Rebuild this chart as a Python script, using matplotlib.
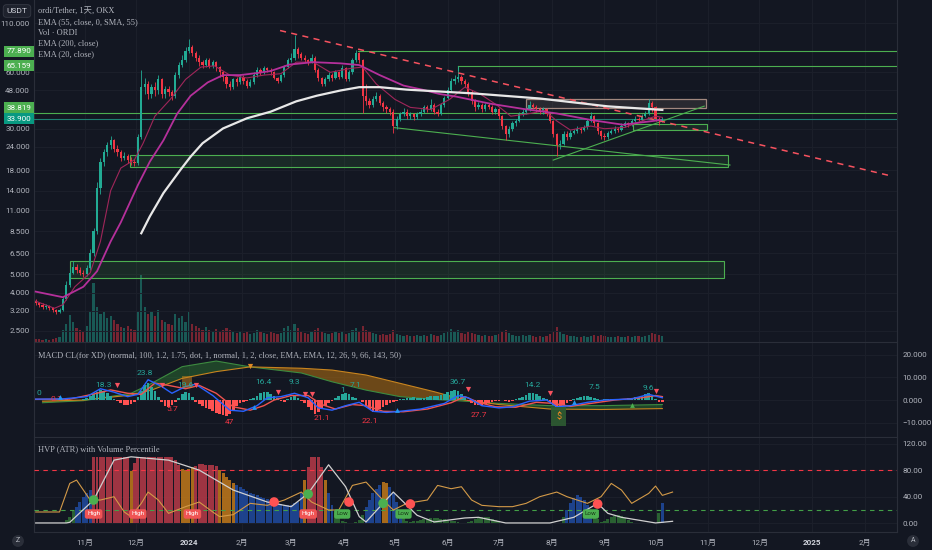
import numpy as np
import pandas as pd
import matplotlib
matplotlib.use('Agg')
import matplotlib.pyplot as plt
from matplotlib.patches import Rectangle
from matplotlib.ticker import NullLocator, NullFormatter

SANS = ['Roboto', 'Noto Sans CJK SC', 'DejaVu Sans']
SERIF = ['Liberation Serif', 'Noto Sans CJK SC', 'DejaVu Sans']
plt.rcParams['font.family'] = SANS

BG = '#131722'
GRID = '#1c202b'
SEP = '#2a2e39'
TXT = '#b2b5be'
UP = '#22ab94'
DN = '#f23645'
GREEN = '#4caf50'

START = pd.Timestamp('2023-10-02')

# 2-day candles (ORDI/USDT)
closes = [3.50, 3.42, 3.35, 3.38, 3.30, 3.22, 3.15, 3.25, 3.70, 4.40,
          5.10, 5.50, 5.30, 5.10, 5.00, 5.40, 6.50, 8.50, 14.5, 20.0,
          22.5, 24.5, 26.0, 23.5, 22.5, 21.0, 21.5, 20.5, 20.0, 19.6,
          27.0, 50.0, 52.0, 46.0, 50.0, 48.0, 55.0, 46.0, 49.0, 47.0,
          45.0, 58.0, 66.0, 70.0, 78.0, 82.0, 76.0, 72.0, 68.0, 66.0,
          70.0, 65.0, 68.0, 64.0, 60.0, 57.0, 52.0, 50.0, 55.0, 53.0,
          57.0, 54.0, 51.0, 53.0, 58.0, 62.0, 60.0, 63.0, 62.0, 60.0,
          56.0, 54.0, 58.0, 64.0, 70.0, 72.0, 80.0, 75.0, 72.0, 70.0,
          68.0, 72.0, 62.0, 56.0, 52.0, 55.0, 58.0, 56.0, 60.0, 57.0,
          63.0, 55.0, 60.0, 70.0, 76.0, 70.0, 45.0, 42.0, 40.0, 43.0,
          45.0, 41.0, 39.0, 38.0, 37.0, 31.0, 34.0, 36.0, 37.0, 35.0,
          36.0, 34.5, 36.0, 37.0, 39.0, 38.0, 40.0, 37.0, 36.0, 40.0,
          44.0, 48.0, 54.0, 55.0, 57.0, 54.0, 52.0, 47.0, 42.0, 39.0,
          40.0, 38.0, 40.0, 39.0, 37.0, 38.0, 35.0, 31.0, 28.0, 30.0,
          32.0, 33.0, 36.0, 37.0, 38.0, 40.0, 39.0, 38.0, 37.0, 38.0,
          36.0, 33.0, 28.0, 24.5, 25.0, 28.0, 27.0, 28.5, 29.0, 30.0,
          29.5, 30.5, 33.0, 35.0, 32.0, 29.0, 27.5, 27.0, 28.5, 29.0,
          30.0, 29.5, 31.0, 32.0, 31.5, 33.0, 34.0, 33.5, 35.0, 36.0,
          41.0, 39.0, 34.0, 33.0, 33.9]
highs = [3.70, 3.58, 3.50, 3.48, 3.44, 3.36, 3.28, 3.32, 3.80, 4.60,
         5.40, 5.90, 5.70, 5.45, 5.30, 5.60, 6.80, 8.90, 15.5, 21.0,
         23.5, 25.5, 27.5, 26.5, 24.5, 23.0, 22.5, 22.0, 21.2, 20.8,
         28.0, 62.0, 56.0, 54.0, 52.0, 53.0, 58.0, 56.0, 51.0, 50.5,
         48.0, 60.0, 68.0, 74.0, 82.0, 90.0, 84.0, 78.0, 74.0, 70.0,
         72.0, 72.0, 70.0, 69.0, 65.0, 61.0, 58.0, 54.0, 56.0, 57.0,
         59.0, 58.0, 55.0, 55.0, 60.0, 64.0, 63.0, 65.0, 64.0, 63.0,
         61.0, 57.0, 59.0, 66.0, 72.0, 76.0, 95.0, 82.0, 77.0, 74.0,
         71.0, 75.0, 73.0, 63.0, 57.0, 56.5, 60.0, 59.5, 62.0, 61.0,
         66.0, 64.0, 61.5, 72.0, 79.0, 77.0, 71.0, 52.0, 44.0, 45.0,
         47.0, 46.0, 42.0, 40.0, 39.0, 38.0, 35.0, 37.0, 38.5, 38.0,
         37.0, 36.5, 37.0, 38.0, 40.0, 40.0, 43.0, 41.0, 38.0, 41.0,
         45.0, 50.0, 56.0, 58.0, 65.0, 58.0, 55.0, 53.0, 48.0, 43.0,
         41.5, 41.0, 41.0, 41.0, 40.0, 39.0, 38.5, 35.5, 31.5, 31.0,
         33.0, 34.0, 37.0, 38.0, 39.0, 42.0, 41.0, 40.0, 39.0, 39.0,
         38.5, 36.5, 33.5, 28.5, 26.0, 29.0, 29.0, 29.5, 30.0, 31.0,
         30.5, 31.5, 34.0, 37.0, 35.5, 32.5, 29.5, 28.5, 29.0, 30.0,
         31.0, 30.5, 32.0, 33.0, 32.5, 34.0, 35.0, 34.5, 36.0, 37.5,
         43.0, 42.0, 39.5, 34.5, 34.8]
lows = [3.42, 3.35, 3.28, 3.27, 3.22, 3.15, 3.08, 3.10, 3.20, 3.65,
        4.30, 5.00, 5.10, 4.95, 4.85, 4.90, 5.30, 6.30, 8.20, 13.5,
        19.0, 21.5, 23.5, 22.5, 21.5, 20.2, 20.3, 19.8, 19.3, 19.0,
        19.3, 26.5, 46.0, 43.0, 44.0, 45.0, 46.0, 44.0, 44.0, 45.0,
        42.5, 44.0, 56.0, 64.0, 68.0, 76.0, 73.0, 69.0, 65.0, 63.0,
        64.0, 63.0, 63.0, 61.0, 57.0, 54.0, 49.5, 48.5, 49.0, 51.0,
        52.0, 52.0, 49.5, 50.0, 52.0, 57.0, 58.0, 59.0, 60.0, 58.0,
        55.0, 52.5, 53.0, 57.0, 63.0, 68.0, 70.0, 72.0, 70.0, 68.0,
        66.0, 67.0, 60.0, 54.0, 50.5, 51.0, 54.0, 54.0, 55.0, 55.5,
        56.0, 54.0, 54.0, 59.0, 68.0, 67.0, 36.5, 40.0, 38.5, 39.0,
        42.0, 40.0, 37.5, 36.5, 35.5, 28.5, 30.0, 33.0, 35.0, 34.0,
        34.0, 33.5, 34.0, 35.0, 36.5, 37.0, 37.5, 36.0, 35.0, 35.5,
        39.0, 43.0, 47.0, 52.0, 53.0, 52.0, 50.0, 45.0, 40.5, 37.5,
        38.0, 37.0, 37.5, 38.0, 36.0, 36.0, 34.0, 30.0, 26.0, 27.0,
        29.0, 31.0, 32.5, 35.0, 36.0, 37.5, 38.0, 37.0, 36.0, 36.0,
        35.0, 32.0, 27.0, 21.5, 23.5, 24.5, 26.0, 26.5, 28.0, 28.5,
        28.5, 29.0, 30.0, 32.5, 31.0, 28.0, 26.5, 26.0, 26.5, 28.0,
        28.5, 28.8, 29.0, 30.5, 30.8, 31.0, 32.5, 32.8, 33.0, 34.5,
        35.5, 37.0, 33.0, 31.5, 32.5]
volume = [3, 3, 2, 3, 2, 3, 4, 5, 12, 18,
          27, 20, 14, 12, 10, 16, 30, 59, 35, 28,
          30, 24, 26, 22, 18, 15, 14, 16, 13, 12,
          30, 67, 35, 28, 30, 26, 32, 22, 20, 18,
          17, 28, 24, 26, 20, 30, 18, 16, 14, 12,
          15, 12, 11, 13, 10, 12, 14, 12, 10, 9,
          11, 9, 10, 8, 9, 12, 10, 9, 8, 10,
          9, 8, 9, 14, 16, 12, 18, 14, 10, 9,
          8, 10, 12, 14, 11, 9, 8, 9, 10, 9,
          11, 8, 9, 12, 14, 11, 16, 12, 10, 9,
          8, 7, 8, 7, 8, 12, 8, 7, 6, 7,
          6, 6, 7, 6, 7, 6, 8, 7, 6, 7,
          9, 11, 13, 10, 12, 9, 8, 10, 9, 8,
          7, 6, 7, 6, 6, 7, 8, 10, 12, 9,
          7, 6, 6, 7, 6, 7, 6, 5, 6, 5,
          6, 8, 11, 15, 10, 8, 7, 6, 6, 5,
          5, 6, 5, 6, 7, 6, 7, 6, 5, 5,
          5, 6, 5, 5, 6, 5, 6, 6, 5, 6,
          7, 9, 8, 7, 6]

# moving averages (day since START, price)
ema200_day = [63, 68, 76, 86, 92, 99, 111, 125, 139, 154, 166, 180, 191, 203, 219, 258, 297, 337, 369]
ema200_val = [8.3, 10.2, 13.6, 18.1, 21.3, 25.1, 30.1, 34.1, 37.0, 42.0, 45.0, 48.0, 50.0, 50.0, 48.5, 46.3, 43.5, 39.5, 37.8]
ema55_day = [1, 17, 29, 37, 45, 51, 61, 68, 76, 84, 92, 102, 111, 121, 131, 139, 150, 164, 180, 191,
             203, 217, 228, 238, 248, 268, 287, 307, 327, 346, 368]
ema55_val = [4.05, 3.78, 4.3, 5.2, 7.5, 9.5, 15.0, 20.0, 26.0, 36.0, 45.0, 53.0, 58.0, 58.0, 59.5, 61.0, 66.0, 68.0, 67.0, 65.6,
             58.0, 51.0, 48.5, 46.0, 44.5, 40.8, 38.3, 36.2, 33.4, 31.5, 33.4]
ema20_day = [1, 12, 17, 24, 33, 39, 45, 51, 59, 64, 71, 80, 89, 98, 106, 115, 125, 135, 145, 154,
             164, 174, 186, 193, 201, 212, 221, 233, 244, 253, 262, 272, 280, 290, 300, 307, 315, 327, 335, 347,
             359, 365, 369]
ema20_val = [3.6, 3.3, 3.45, 4.3, 5.1, 7.5, 14.0, 18.5, 20.5, 25.0, 35.0, 43.0, 55.0, 64.0, 65.0, 58.0, 56.0, 58.0, 59.0, 68.0,
             68.0, 60.0, 63.0, 64.0, 52.0, 43.0, 39.0, 38.0, 43.0, 50.0, 46.0, 40.0, 35.0, 36.0, 37.5, 33.0, 29.5, 31.0, 30.0, 30.5,
             33.5, 35.0, 34.5]

price_ticks = [110, 60, 48, 30, 24, 18, 14, 11, 8.5, 6.5, 5, 4, 3.2, 2.5]
price_tags = [(77.89, '77.890', GREEN), (65.159, '65.159', GREEN),
              (38.819, '38.819', GREEN), (33.9, '33.900', '#089981')]

# MACD panel (per candle histogram, sampled lines by candle index)
macd_hist = [0.2, 0.1, -0.1, -0.2, -0.1, 0.0, 0.1, 0.1, 0.2, 0.3, 0.2, 0.1, 0.1, 0.2, 0.4,
             0.8, 1.6, 2.6, 3.6, 4.4, 4.0, 3.0, 1.8, 0.6,
             -0.5, -1.2, -2.0, -2.2, -1.6, -0.8,
             1.5, 4.0, 6.5, 7.5, 6.0, 4.0, 1.5,
             -1.0, -2.5, -3.0, -2.2, -1.0,
             1.0, 2.5, 3.7, 3.0, 1.2,
             -0.8, -1.8, -2.6, -3.4, -4.2, -5.0, -5.8, -6.4, -6.8, -7.0, -6.2, -4.5, -2.8, -1.2,
             -0.8, -0.3, 0.5, 1.0,
             2.0, 3.0, 3.7, 3.5, 2.8, 1.8, 0.8,
             -0.5, -1.0, 0.5, 1.5, 2.0, 1.0,
             -0.5, -1.5, -3.0, -4.5, -6.0, -5.5, -4.0, -2.5, -1.2, -0.3,
             0.8, 1.8, 2.8, 3.0, 2.5, 1.5, 0.8, 0.2,
             -1.0, -2.5, -4.0, -5.2, -5.0, -4.0, -3.0, -2.0, -1.2, -0.8, -0.3,
             0.3, 0.5, 0.8, 1.0, 1.2, 1.0, 0.8, 1.0, 1.3, 1.6, 1.8, 2.0, 2.3, 2.8, 3.5, 4.2, 4.4, 3.8, 2.8, 1.5,
             -0.5, -1.2, -2.0, -2.2, -2.0, -1.6, -1.2, -0.8, -0.6, -0.4, -0.2,
             -0.5, -1.0, -0.5, 0.3, 0.8,
             1.5, 2.2, 3.0, 3.0, 2.5, 1.8, 1.0, 0.3,
             -0.8, -2.0, -3.0, -2.8, -2.0, -1.2, -0.4,
             0.5, 1.0, 1.5, 1.8, 1.6, 1.2, 0.8, 0.4, 0.2,
             0.3, 0.5, 0.6, 0.5, 0.4, 0.5, 0.6, 0.8, 1.0, 1.2, 1.5, 2.0,
             2.5, 3.0, 2.0, 0.5, -0.8, -1.0]
macd_idx = [0, 8, 15, 19, 23, 27, 30, 33, 37, 40, 44, 47, 52, 57, 61, 65, 68, 72, 76, 80, 83, 87, 91, 95,
            99, 103, 107, 113, 120, 124, 127, 131, 136, 140, 145, 150, 153, 157, 162, 167, 175, 180, 184]
macd_val = [0.4, 0.5, 1.5, 5.0, 3.5, 1.5, 2.5, 9.0, 6.0, 3.0, 6.0, 7.0, 2.0, -4.5, -5.0, -2.5, 1.0, 1.5, 3.0, 1.0,
            -3.5, -4.5, -2.5, -1.0, -5.0, -5.5, -5.0, -4.0, -1.5, 2.0, 1.0, -2.5, -3.5, -3.0, -0.5, 0.0, -3.0,
            -2.5, -1.0, 0.0, 0.5, 2.5, 1.0]
signal_idx = [0, 10, 18, 22, 27, 31, 35, 39, 44, 48, 53, 58, 63, 67, 70, 75, 80, 84, 88, 93, 97, 102, 108,
              115, 122, 126, 130, 135, 141, 147, 152, 157, 163, 170, 178, 182, 184]
signal_val = [0.3, 0.4, 3.0, 4.5, 3.0, 2.5, 7.5, 6.5, 5.0, 6.5, 3.0, -3.0, -4.5, -2.5, 0.0, 2.0, 2.0, -2.0, -4.0,
              -2.0, -2.5, -5.0, -5.2, -4.0, -1.2, 1.5, -1.0, -3.0, -3.2, -1.0, -1.5, -2.8, -1.5, 0.0, 1.0, 2.0, 1.5]
cloud_idx = [2, 14, 28, 34, 43, 53, 63, 78, 87, 97, 107, 117, 126, 136, 151, 166, 184]
cloud_fast = [-1.2, -0.3, 3.0, 7.4, 14.8, 17.3, 14.7, 12.0, 8.1, 4.4, 1.5, 0.3, -0.5, -1.5, -2.5, -2.5, -2.0]
cloud_slow = [-0.5, 0.0, 2.2, 4.4, 9.6, 12.6, 14.7, 14.1, 13.3, 11.1, 7.4, 3.7, 0.0, -2.0, -4.0, -4.2, -3.8]
macd_up_labels = [(1, 1.8, '0'), (20, 5.3, '18.3'), (32, 10.7, '23.8'), (44, 5.3, '19.6'), (67, 6.7, '16.4'),
                  (76, 6.7, '9.3'), (90, 3.1, '1'), (94, 5.3, '7.1'), (124, 6.7, '36.7'), (146, 5.3, '14.2'),
                  (164, 4.4, '7.5'), (180, 4.0, '9.6')]
macd_dn_labels = [(6, 1.8, '0.1'), (40, -2.7, '5.7'), (57, -8.4, '47'), (84, -6.7, '21.1'),
                  (98, -8.0, '22.1'), (130, -5.3, '27.7')]
sell_marks = [(24, 6.7), (37, 6.7), (47, 6.7), (71, 3.6), (79, 2.7), (81, 2.7), (127, 4.9), (151, 3.1), (182, 4.0)]
buy_marks = [(7, 1.3), (64, -3.1), (106, -4.4), (158, -0.9)]

# HVP panel
hvp = [0.5, 0.5, 0.5, 0.5, 0.5, 0.5, 0.5, 0.5, 0.5, 5,
       10, 18, 25, 32, 40, 46, 50, 100, 100, 100,
       100, 100, 100, 100, 100, 100, 100, 100, 78, 90,
       100, 100, 100, 100, 100, 100, 100, 100, 100, 100,
       100, 95, 88, 82, 80, 82, 84, 86, 89, 89,
       88, 88, 87, 86, 80, 75, 70, 65, 60, 57,
       54, 51, 48, 46, 44, 42, 40, 38, 36, 34,
       32, 30, 29, 28, 27, 28, 30, 32, 45, 65,
       85, 100, 100, 100, 85, 65, 45, 28, 15, 8,
       4, 2, 1, 1, 2, 5, 12, 25, 35, 45,
       52, 58, 62, 60, 55, 45, 32, 20, 10, 3,
       2, 3, 4, 5, 6, 7, 8, 8, 8, 7,
       6, 5, 4, 3, 2, 1, 1, 2, 4, 6,
       8, 10, 10, 9, 7, 5, 3, 1, 0.5, 0.5,
       0.5, 0.5, 0.5, 0.5, 0.5, 0.5, 0.5, 0.5, 0.5, 0.5,
       0.5, 0.5, 0.5, 0.5, 0.5, 10, 20, 30, 38, 42,
       40, 35, 28, 20, 12, 6, 2, 3, 6, 9,
       11, 12, 11, 8, 5, 2, 0.5, 0.5, 0.5, 0.5,
       0.5, 0.5, 1, 15, 30]
hvp_line_idx = [0, 9, 10, 17, 23, 28, 39, 48, 58, 68, 75, 80, 86, 91, 95, 97, 105, 112, 117, 126,
                130, 138, 151, 158, 165, 168, 172, 182, 187]
hvp_line_val = [0.5, 0.5, 1.5, 35, 95, 100, 95, 80, 50, 32, 25, 45, 88, 55, 10, 2, 47, 12, 2, 8,
                9, 0.5, 0.5, 9, 30, 15, 9, 0.5, 3]
volpct_idx = [0, 7, 10, 12, 14, 16, 19, 23, 26, 28, 31, 33, 36, 39, 44, 48, 52, 54, 58, 63,
              68, 73, 78, 81, 86, 89, 93, 97, 101, 105, 109, 115, 118, 122, 125, 128, 131, 136, 140, 144,
              148, 153, 156, 159, 162, 166, 169, 172, 175, 180, 182, 184, 187]
volpct_val = [17, 17, 60, 65, 50, 35, 35, 40, 17, 10, 30, 47, 35, 15, 25, 32, 17, 10, 13, 30,
              27, 35, 47, 32, 20, 20, 57, 62, 40, 20, 30, 35, 57, 52, 55, 35, 27, 25, 25, 30,
              40, 47, 40, 35, 30, 40, 60, 50, 30, 45, 56, 42, 47]
hvp_dots = [(17, 35, '#4caf50'), (80, 44, '#4caf50'), (70, 32, '#ff5252'), (92, 32, '#ff5252'),
            (102, 30, '#4caf50'), (110, 29, '#ff5252'), (165, 29, '#ff5252')]
high_tags = [17, 30, 46, 80]
low_tags = [90, 108, 163]


def cday(i):
    return 1 + 2 * np.asarray(i, dtype=float)


n = len(closes)
closes = np.array(closes)
highs = np.array(highs)
lows = np.array(lows)
opens = np.r_[3.60, closes[:-1]]
day = cday(np.arange(n))
cols = np.where(closes >= opens, UP, DN)

months = pd.date_range('2023-11-01', '2025-02-01', freq='MS')
mticks = (months - START).days
mlabels = [str(d.year) if d.month == 1 else f'{d.month}月' for d in months]
XMAX = 506.8

fig = plt.figure(figsize=(9.32, 5.5), dpi=100, facecolor=BG)
L, W = 34 / 932, 863 / 932
ax = fig.add_axes([L, 208 / 550, W, 342 / 550])
axm = fig.add_axes([L, 113 / 550, W, 94 / 550])
axh = fig.add_axes([L, 18 / 550, W, 94 / 550])

for a in (ax, axm, axh):
    a.set_facecolor(BG)
    a.set_xlim(0, XMAX)
    a.set_xticks(mticks)
    a.grid(True, color=GRID, lw=0.7)
    a.set_axisbelow(True)
    a.tick_params(length=0, colors=TXT, labelsize=5.8)
    for s in a.spines.values():
        s.set_color(SEP)
        s.set_linewidth(0.8)
    a.spines['top'].set_visible(False)
ax.tick_params(labelbottom=False)
axm.tick_params(labelbottom=False)

# ---- main price pane ----
axv = ax.twinx()
axv.set_facecolor(BG)
axv.set_ylim(0, 342)
axv.bar(day, volume, width=1.3, color=cols, alpha=0.45, lw=0)
axv.set_yticks([])
for s in axv.spines.values():
    s.set_visible(False)
ax.set_zorder(axv.get_zorder() + 1)
ax.patch.set_visible(False)

ax.set_yscale('log')
ax.set_ylim(2.18, 146)
ax.set_yticks(price_ticks)
ax.set_yticklabels([f'{p:.3f}' for p in price_ticks])
ax.yaxis.set_minor_locator(NullLocator())
ax.yaxis.set_minor_formatter(NullFormatter())
ax.tick_params(axis='y', pad=3)

# zones and trend lines
zones = [((21.1, 4.78), 384.1, 1.13), ((56.4, 18.7), 350.9, 2.9), ((351.9, 29.4), 43.5, 2.3)]
for (x0, y0), w, h in zones:
    ax.add_patch(Rectangle((x0, y0), w, h, fc=GREEN, alpha=0.13, ec='none', zorder=2))
    ax.add_patch(Rectangle((x0, y0), w, h, fc='none', ec=GREEN, lw=0.8, zorder=3))
ax.add_patch(Rectangle((288.7, 38.819), 105.7, 4.28, fc='#7a6a64', alpha=0.22, ec='none', zorder=2))
ax.add_patch(Rectangle((288.7, 38.819), 105.7, 4.28, fc='none', ec='#a1887f', lw=0.9, zorder=3))
ax.plot([190.3, XMAX], [77.89, 77.89], color=GREEN, lw=0.8, zorder=3)
ax.plot([249.0, XMAX], [65.159, 65.159], color=GREEN, lw=0.8, zorder=3)
ax.plot([249.0, 249.0], [65.159, 61.8], color=GREEN, lw=0.8, zorder=3)
ax.axhline(36.6, color=GREEN, lw=0.8, zorder=3)
ax.axhline(33.9, color='#1e7f72', lw=0.8, zorder=3)
ax.plot([211.6, 408.7], [30.4, 19.2], color=GREEN, lw=0.8, zorder=3)
ax.plot([304.9, 393.6], [20.4, 39.6], color=GREEN, lw=0.8, zorder=3)
ax.plot([144.5, 504.4], [100.3, 16.7], color='#f7525f', lw=1.1, ls=(0, (4, 3.5)), zorder=6)

# candles
ax.vlines(day, lows, highs, colors=cols, lw=0.6, zorder=4)
body_lo = np.minimum(opens, closes)
body_h = np.maximum(np.abs(closes - opens), body_lo * 0.006)
ax.bar(day, body_h, bottom=body_lo, width=1.3, color=cols, lw=0, zorder=5)

ax.plot(ema20_day, ema20_val, color='#a0265a', lw=0.8, zorder=6)
ax.plot(ema55_day, ema55_val, color='#b5309b', lw=1.3, zorder=6)
ax.plot(ema200_day, ema200_val, color='#e8e8e8', lw=1.6, zorder=6)

for v, t, fc in price_tags:
    ax.text(-0.003, v, t, transform=ax.get_yaxis_transform(), ha='right', va='center',
            fontsize=5.8, color='white', zorder=10, clip_on=False,
            bbox=dict(boxstyle='square,pad=0.3', fc=fc, ec='none'))

# ---- MACD pane ----
axm.set_ylim(-16.4, 25.3)
axm.yaxis.tick_right()
axm.set_yticks([20, 10, 0, -10])
axm.set_yticklabels(['20.000', '10.000', '0.000', '\u221210.000'])
axm.tick_params(axis='y', pad=4)
cd = cday(cloud_idx)
cf = np.array(cloud_fast)
cs = np.array(cloud_slow)
axm.fill_between(cd, cf, cs, where=cf >= cs, interpolate=True, color='#2e7d32', alpha=0.45, lw=0)
axm.fill_between(cd, cf, cs, where=cf < cs, interpolate=True, color='#a86a12', alpha=0.6, lw=0)
axm.plot(cd, cf, color='#3d8b40', lw=0.8)
axm.plot(cd, cs, color='#c8841e', lw=0.8)
mh = np.array(macd_hist)
axm.bar(day, mh, width=1.6, color=np.where(mh >= 0, '#26a69a', '#ff5252'), lw=0, zorder=3)
axm.plot(cday(signal_idx), signal_val, color='#ef5350', lw=1.0, zorder=4)
axm.plot(cday(macd_idx), macd_val, color='#2962ff', lw=1.0, zorder=4)
for i, v, t in macd_up_labels:
    axm.text(cday(i), v, t, color='#26a69a', fontsize=6, ha='center', va='bottom', zorder=6)
for i, v, t in macd_dn_labels:
    axm.text(cday(i), v, t, color='#f23645', fontsize=6, ha='center', va='top', zorder=6)
sx, sy = zip(*sell_marks)
axm.scatter(cday(sx), sy, marker='v', s=14, color='#f7525f', lw=0, zorder=7)
axm.scatter(cday(63), 15.1, marker='v', s=14, color='#e08a24', lw=0, zorder=7)
bx, by = zip(*buy_marks)
axm.scatter(cday(bx), by, marker='^', s=12, color='#2196f3', lw=0, zorder=7)
axm.scatter(cday(175), -2.2, marker='^', s=12, color='#4caf50', lw=0, zorder=7)
axm.add_patch(Rectangle((86.9, 5.3), 5.9, 5.4, fc='#c8841e', alpha=0.5, ec='none', zorder=5))
axm.text(cday(153.6), -7.5, '$', ha='center', va='center', fontsize=6.5, color='#f08a24', zorder=7,
         bbox=dict(boxstyle='square,pad=0.55', fc='#2e5d32', ec='none', alpha=0.9))

# ---- HVP pane ----
axh.set_ylim(-13.1, 128.3)
axh.yaxis.tick_right()
axh.set_yticks([120, 80, 40, 0])
axh.set_yticklabels(['120.00', '80.00', '40.00', '0.00'])
axh.tick_params(axis='y', pad=4)
axh.set_xticklabels(mlabels)
axh.tick_params(axis='x', pad=5)
for lab in axh.get_xticklabels():
    if lab.get_text().isdigit():
        lab.set_fontweight('bold')
        lab.set_color('#d1d4dc')
hv = np.array(hvp, dtype=float)
hcol = np.select([hv >= 85, hv >= 60, hv >= 20], ['#b73a48', '#c27a1a', '#1f4aa0'], '#2f6f35')
axh.bar(day, hv, width=1.75, color=hcol, alpha=0.85, lw=0, zorder=2)
axh.axhline(80, color='#f23645', lw=0.8, ls=(0, (4, 4)), zorder=3)
axh.axhline(20, color='#43a047', lw=0.8, ls=(0, (4, 4)), zorder=3)
axh.plot(cday(volpct_idx), volpct_val, color='#d39a48', lw=0.8, zorder=4)
axh.plot(cday(hvp_line_idx), hvp_line_val, color='#d0d0d0', lw=0.9, zorder=4)
dx, dy, dc = zip(*hvp_dots)
axh.scatter(cday(dx), dy, s=48, c=dc, lw=0, zorder=6)
for i in high_tags:
    axh.text(cday(i), 14, 'High', fontsize=4.6, color='white', ha='center', va='center', zorder=7,
             bbox=dict(boxstyle='round,pad=0.35', fc='#f05454', ec='none'))
for i in low_tags:
    axh.text(cday(i), 14, 'Low', fontsize=4.6, color='#1b3a1b', ha='center', va='center', zorder=7,
             bbox=dict(boxstyle='round,pad=0.35', fc='#4caf50', ec='none'))

# ---- legends / titles ----
legend = ['ordi/Tether, 1天, OKX', 'EMA (55, close, 0, SMA, 55)', 'Vol · ORDI',
          'EMA (200, close)', 'EMA (20, close)']
for k, t in enumerate(legend):
    fig.text(38 / 932, 1 - (11 + 10.8 * k) / 550, t, fontsize=6, color=TXT, family=SERIF, va='center')
fig.text(38 / 932, 1 - 355 / 550,
         'MACD CL(for XD) (normal, 100, 1.2, 1.75, dot, 1, normal, 1, 2, close, EMA, EMA, 12, 26, 9, 66, 143, 50)',
         fontsize=6, color=TXT, family=SERIF, va='center')
fig.text(38 / 932, 1 - 449 / 550, 'HVP (ATR) with Volume Percentile', fontsize=6, color=TXT,
         family=SERIF, va='center')
fig.text(17 / 932, 1 - 11 / 550, 'USDT', fontsize=6, color='#d1d4dc', ha='center', va='center',
         bbox=dict(boxstyle='round,pad=0.4', fc='#1e222d', ec='#363a45', lw=0.6))
fig.text(18 / 932, 1 - 541 / 550, 'Z', fontsize=5, color=TXT, ha='center', va='center',
         bbox=dict(boxstyle='circle,pad=0.35', fc='#2a2e39', ec='none'))
fig.text(913 / 932, 1 - 541 / 550, 'A', fontsize=5, color=TXT, ha='center', va='center',
         bbox=dict(boxstyle='circle,pad=0.35', fc='#2a2e39', ec='none'))

fig.savefig('out.png', dpi=100, facecolor=BG)
